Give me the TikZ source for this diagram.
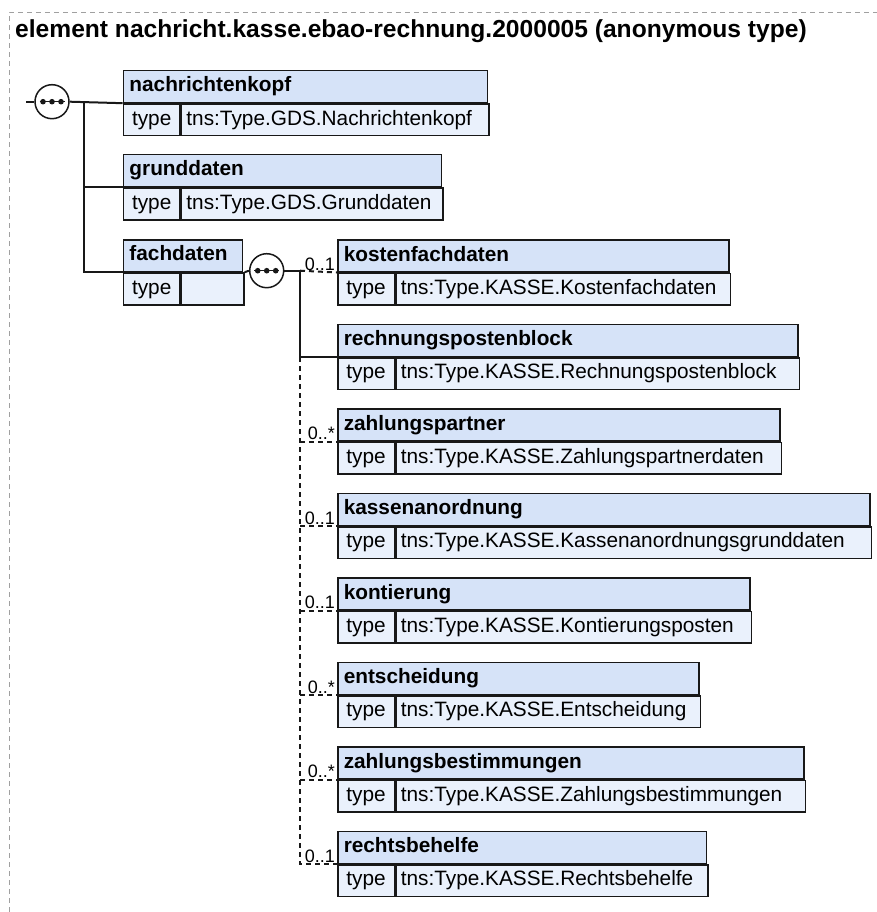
\documentclass[tikz,border=0pt]{standalone}
\usepackage{fontspec}
\setmainfont{Liberation Sans}
\definecolor{hdrblue}{RGB}{214,227,248}
\definecolor{rowblue}{RGB}{234,241,252}
\definecolor{boxline}{RGB}{24,24,24}
\definecolor{framegray}{RGB}{160,160,160}
\usetikzlibrary{positioning}

\begin{document}
\begin{tikzpicture}[x=1pt, y=-1pt,
    font=\fontsize{20.8}{24}\selectfont,
    hdr/.style={rectangle, draw=boxline, fill=hdrblue, line width=1.5pt, anchor=north west, minimum height=31.7pt, inner xsep=6pt, inner ysep=0pt, text height=14.8pt, text depth=4.3pt, align=left, font=\fontsize{20.8}{24}\selectfont\bfseries},
    typecell/.style={rectangle, draw=boxline, fill=rowblue, line width=1.5pt, anchor=north west, minimum width=56.5pt, minimum height=31.8pt, inner sep=0pt, text height=14.8pt, text depth=4.3pt},
    valcell/.style={typecell, minimum width=0pt, inner xsep=5pt, align=left},
    link/.style={draw=boxline, line width=2pt},
    opt/.style={link, dash pattern=on 5pt off 4pt},
    mult/.style={anchor=south east, inner xsep=2pt, inner ysep=1.5pt, font=\fontsize{18}{20}\selectfont},
    seq/.style={circle, draw=boxline, fill=white, line width=1.5pt, minimum size=34pt, inner sep=0pt},
]
\useasboundingbox (0,0) rectangle (877,912);
% frame and title
\draw[framegray, line width=0.8pt, dash pattern=on 5pt off 4pt] (9,912) -- (9,12) -- (877,12);
\node[anchor=base west, inner sep=0pt, font=\fontsize{24.6}{28}\selectfont\bfseries] (title) at (15,38) {element nachricht.kasse.ebao-rechnung.2000005 (anonymous type)};

% first level
\node[hdr, text width=352pt] (kopf) at (122.7,70) {nachrichtenkopf};
\node[typecell] (kopf-t) at (kopf.south west) {type};
\node[valcell, text width=297.5pt] (kopf-v) at (kopf-t.north east) {tns:Type.GDS.Nachrichtenkopf};

\node[hdr, text width=306pt] (grund) at (122.7,154) {grunddaten};
\node[typecell] (grund-t) at (grund.south west) {type};
\node[valcell, text width=251.5pt] (grund-v) at (grund-t.north east) {tns:Type.GDS.Grunddaten};

\node[hdr, text width=107pt] (fach) at (122.7,239) {fachdaten};
\node[typecell] (fach-t) at (fach.south west) {type};
\node[valcell, text width=52.5pt] (fach-v) at (fach-t.north east) {};

% second level
\node[hdr, text width=379.3pt] (kosten) at (337,239.3) {kostenfachdaten};
\node[typecell] (kosten-t) at (kosten.south west) {type};
\node[valcell, text width=324.8pt] (kosten-v) at (kosten-t.north east) {tns:Type.KASSE.Kostenfachdaten};

\node[hdr, text width=448.3pt] (rpost) at (337,323.8) {rechnungspostenblock};
\node[typecell] (rpost-t) at (rpost.south west) {type};
\node[valcell, text width=393.8pt] (rpost-v) at (rpost-t.north east) {tns:Type.KASSE.Rechnungspostenblock};

\node[hdr, text width=430.3pt] (zpart) at (337,408.3) {zahlungspartner};
\node[typecell] (zpart-t) at (zpart.south west) {type};
\node[valcell, text width=375.8pt] (zpart-v) at (zpart-t.north east) {tns:Type.KASSE.Zahlungspartnerdaten};

\node[hdr, text width=520.3pt] (kasse) at (337,492.8) {kassenanordnung};
\node[typecell] (kasse-t) at (kasse.south west) {type};
\node[valcell, text width=465.8pt] (kasse-v) at (kasse-t.north east) {tns:Type.KASSE.Kassenanordnungsgrunddaten};

\node[hdr, text width=400.3pt] (kont) at (337,577.3) {kontierung};
\node[typecell] (kont-t) at (kont.south west) {type};
\node[valcell, text width=345.8pt] (kont-v) at (kont-t.north east) {tns:Type.KASSE.Kontierungsposten};

\node[hdr, text width=349.3pt] (ents) at (337,661.8) {entscheidung};
\node[typecell] (ents-t) at (ents.south west) {type};
\node[valcell, text width=294.8pt] (ents-v) at (ents-t.north east) {tns:Type.KASSE.Entscheidung};

\node[hdr, text width=454.3pt] (zbest) at (337,746.3) {zahlungsbestimmungen};
\node[typecell] (zbest-t) at (zbest.south west) {type};
\node[valcell, text width=399.8pt] (zbest-v) at (zbest-t.north east) {tns:Type.KASSE.Zahlungsbestimmungen};

\node[hdr, text width=356.7pt] (rbeh) at (337,830.8) {rechtsbehelfe};
\node[typecell] (rbeh-t) at (rbeh.south west) {type};
\node[valcell, text width=302.2pt] (rbeh-v) at (rbeh-t.north east) {tns:Type.KASSE.Rechtsbehelfe};

% sequence symbols
\node[seq] (seq1) at (52,101.7) {};
\node[seq] (seq2) at (266.7,270.7) {};
\foreach \s in {seq1, seq2} {
    \draw[boxline, line width=1.5pt] ([xshift=-12.5pt]\s.center) -- ([xshift=12.5pt]\s.center);
    \foreach \d in {-9, 0, 9}
        \fill[boxline] ([xshift=\d pt]\s.center) circle (2.8pt);
}
\coordinate (in) at (26,101.7);
\coordinate (t1) at (84,0);
\coordinate (t2) at (300,0);

% connectors
\draw[link] (in) -- (seq1.west);
\draw[link] (seq1.east) -- (kopf.south west);
\draw[link] (t1 |- kopf.south west) -- (t1 |- fach.south west) -- (fach.south west);
\draw[link] (t1 |- grund.south west) -- (grund.south west);
\draw[link] (fach-v.north east) -- (seq2.west);
\draw[link] (seq2.east) -- (t2 |- seq2.east) -- (t2 |- rpost.south west) -- (rpost.south west);
\draw[opt] (t2 |- seq2.east) -- (kosten.south west);
\draw[opt] (t2 |- rpost.south west) -- (t2 |- rbeh.south west) -- (rbeh.south west);
\draw[opt] (t2 |- zpart.south west) -- (zpart.south west);
\draw[opt] (t2 |- kasse.south west) -- (kasse.south west);
\draw[opt] (t2 |- kont.south west) -- (kont.south west);
\draw[opt] (t2 |- ents.south west) -- (ents.south west);
\draw[opt] (t2 |- zbest.south west) -- (zbest.south west);

% multiplicities
\node[mult] (m-kosten) at (kosten.south west) {0..1};
\node[mult] (m-zpart) at (zpart.south west) {0..*};
\node[mult] (m-kasse) at (kasse.south west) {0..1};
\node[mult] (m-kont) at (kont.south west) {0..1};
\node[mult] (m-ents) at (ents.south west) {0..*};
\node[mult] (m-zbest) at (zbest.south west) {0..*};
\node[mult] (m-rbeh) at (rbeh.south west) {0..1};
\end{tikzpicture}
\end{document}
